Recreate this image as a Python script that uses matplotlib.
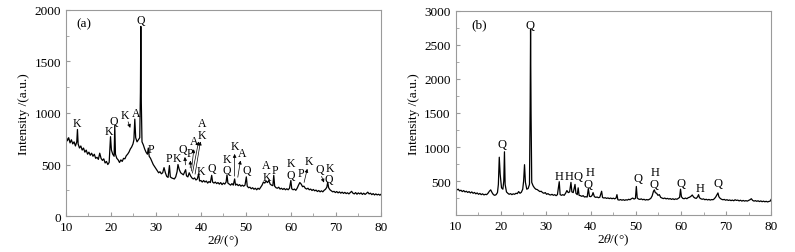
import numpy as np
import matplotlib
matplotlib.use('Agg')
import matplotlib.pyplot as plt

plt.rcParams['font.family'] = ['Liberation Serif', 'DejaVu Serif']
plt.rcParams['mathtext.fontset'] = 'stix'
plt.rcParams['font.size'] = 9

# --- XRD pattern (a): 2theta (deg), intensity (a.u.)
pattern_a = [
    (10.0, 780), (10.3, 730), (10.6, 760), (10.9, 710), (11.2, 740), (11.5, 700), (11.8, 720), (12.1, 680),
    (12.4, 720), (12.55, 840), (12.7, 700), (13.0, 660), (13.3, 680), (13.6, 640), (13.9, 660), (14.2, 620),
    (14.5, 640), (14.8, 600), (15.1, 620), (15.4, 590), (15.7, 610), (16.0, 580), (16.3, 600), (16.6, 560),
    (16.9, 570), (17.2, 550), (17.5, 610), (17.8, 560), (18.1, 540), (18.4, 555), (18.7, 515), (19.0, 530),
    (19.3, 500), (19.6, 520), (19.9, 770), (20.1, 640), (20.4, 600), (20.7, 580), (20.85, 880), (21.0, 600),
    (21.3, 560), (21.6, 545), (21.9, 520), (22.2, 545), (22.5, 530), (22.8, 560), (23.1, 555), (23.4, 585),
    (23.7, 600), (24.0, 620), (24.3, 650), (24.6, 670), (24.9, 700), (25.1, 740), (25.3, 940), (25.5, 760),
    (25.8, 720), (26.1, 740), (26.4, 760), (26.55, 1200), (26.64, 1840), (26.75, 1100), (26.9, 720), (27.2, 690),
    (27.5, 650), (27.8, 620), (28.1, 600), (28.3, 660), (28.5, 580), (28.8, 560), (29.1, 530), (29.4, 500),
    (29.7, 480), (30.0, 460), (30.3, 440), (30.6, 420), (30.9, 430), (31.2, 410), (31.5, 420), (31.8, 470),
    (32.1, 420), (32.4, 385), (32.7, 375), (33.0, 490), (33.2, 380), (33.5, 370), (33.8, 365), (34.1, 360),
    (34.4, 380), (34.7, 430), (34.9, 500), (35.2, 450), (35.5, 420), (35.8, 410), (36.1, 400), (36.4, 430),
    (36.6, 450), (36.8, 390), (37.1, 380), (37.4, 420), (37.7, 390), (38.0, 370), (38.3, 360), (38.6, 370),
    (38.9, 350), (39.2, 360), (39.5, 410), (39.7, 340), (40.0, 345), (40.3, 330), (40.6, 345), (40.9, 330),
    (41.2, 340), (41.5, 320), (41.8, 335), (42.1, 325), (42.4, 395), (42.6, 330), (42.9, 320), (43.2, 330),
    (43.5, 315), (43.8, 325), (44.1, 310), (44.4, 325), (44.7, 305), (45.0, 320), (45.3, 310), (45.6, 330),
    (45.8, 400), (46.0, 320), (46.3, 310), (46.6, 300), (46.9, 315), (47.2, 300), (47.5, 360), (47.7, 300),
    (48.0, 310), (48.3, 295), (48.6, 305), (48.9, 290), (49.2, 300), (49.5, 290), (49.8, 300), (50.1, 380),
    (50.3, 290), (50.6, 275), (50.9, 280), (51.2, 265), (51.5, 275), (51.8, 260), (52.1, 270), (52.4, 255),
    (52.7, 270), (53.0, 260), (53.3, 280), (53.6, 300), (53.9, 330), (54.2, 320), (54.5, 340), (54.8, 325),
    (55.1, 345), (55.4, 310), (55.7, 300), (56.0, 295), (56.2, 395), (56.4, 290), (56.7, 275), (57.0, 270),
    (57.3, 280), (57.6, 262), (57.9, 270), (58.2, 258), (58.5, 268), (58.8, 255), (59.1, 265), (59.4, 255),
    (59.7, 270), (60.0, 345), (60.2, 265), (60.5, 255), (60.8, 262), (61.1, 250), (61.4, 270), (61.7, 300),
    (62.0, 325), (62.3, 310), (62.6, 285), (62.9, 290), (63.2, 270), (63.5, 262), (63.8, 270), (64.1, 255),
    (64.4, 262), (64.7, 248), (65.0, 258), (65.3, 245), (65.6, 252), (65.9, 238), (66.2, 248), (66.5, 235),
    (66.8, 245), (67.1, 235), (67.4, 250), (67.7, 260), (68.0, 280), (68.2, 330), (68.4, 275), (68.7, 255),
    (69.0, 245), (69.3, 235), (69.6, 240), (69.9, 228), (70.2, 238), (70.5, 225), (70.8, 235), (71.1, 222),
    (71.4, 232), (71.7, 220), (72.0, 230), (72.3, 218), (72.6, 226), (72.9, 215), (73.2, 228), (73.5, 240),
    (73.8, 222), (74.1, 215), (74.4, 228), (74.7, 212), (75.0, 225), (75.3, 215), (75.6, 225), (75.9, 210),
    (76.2, 222), (76.5, 210), (76.8, 220), (77.1, 232), (77.4, 215), (77.7, 222), (78.0, 208), (78.3, 218),
    (78.6, 205), (78.9, 215), (79.2, 205), (79.5, 212), (79.8, 202), (80.0, 210),
]

# --- XRD pattern (b)
pattern_b = [
    (10.0, 390), (10.3, 370), (10.6, 380), (10.9, 355), (11.2, 365), (11.5, 345), (11.8, 360), (12.1, 340),
    (12.4, 350), (12.7, 332), (13.0, 345), (13.3, 325), (13.6, 340), (13.9, 320), (14.2, 332), (14.5, 312),
    (14.8, 325), (15.1, 305), (15.4, 318), (15.7, 300), (16.0, 312), (16.3, 296), (16.6, 305), (16.9, 300),
    (17.2, 320), (17.5, 350), (17.8, 370), (18.1, 330), (18.4, 300), (18.7, 290), (19.0, 300), (19.3, 330),
    (19.5, 450), (19.7, 850), (19.9, 600), (20.2, 400), (20.5, 380), (20.7, 500), (20.85, 930), (21.0, 450),
    (21.3, 340), (21.6, 320), (21.9, 305), (22.2, 315), (22.5, 300), (22.8, 312), (23.1, 305), (23.4, 320),
    (23.7, 315), (24.0, 345), (24.3, 320), (24.6, 335), (24.9, 380), (25.1, 500), (25.3, 740), (25.5, 480),
    (25.8, 380), (26.1, 390), (26.4, 450), (26.55, 1600), (26.64, 2730), (26.75, 1500), (26.9, 480), (27.2, 430),
    (27.5, 400), (27.8, 380), (28.1, 375), (28.4, 360), (28.7, 345), (29.0, 350), (29.3, 330), (29.6, 320),
    (29.9, 330), (30.2, 305), (30.5, 315), (30.8, 300), (31.1, 295), (31.4, 305), (31.7, 290), (32.0, 300),
    (32.3, 285), (32.6, 300), (33.0, 490), (33.2, 300), (33.5, 290), (33.8, 300), (34.1, 290), (34.4, 320),
    (34.7, 360), (35.0, 330), (35.3, 340), (35.6, 480), (35.8, 340), (36.1, 330), (36.5, 450), (36.7, 320),
    (37.0, 300), (37.2, 400), (37.4, 290), (37.7, 285), (38.0, 275), (38.3, 285), (38.6, 265), (38.9, 270),
    (39.2, 265), (39.45, 390), (39.7, 275), (40.0, 270), (40.3, 290), (40.5, 330), (40.8, 270), (41.1, 260),
    (41.4, 265), (41.7, 255), (42.0, 262), (42.4, 350), (42.6, 258), (42.9, 250), (43.2, 255), (43.5, 245),
    (43.8, 252), (44.1, 242), (44.4, 250), (44.7, 240), (45.0, 248), (45.3, 238), (45.6, 250), (45.8, 300),
    (46.0, 225), (46.3, 220), (46.6, 228), (46.9, 218), (47.2, 226), (47.5, 216), (47.8, 225), (48.1, 220),
    (48.4, 232), (48.7, 225), (49.0, 240), (49.3, 250), (49.6, 235), (49.9, 245), (50.1, 420), (50.3, 250),
    (50.6, 235), (50.9, 230), (51.2, 238), (51.5, 225), (51.8, 232), (52.1, 220), (52.4, 228), (52.7, 222),
    (53.0, 232), (53.3, 245), (53.6, 280), (53.9, 350), (54.1, 370), (54.3, 330), (54.6, 320), (54.9, 290),
    (55.2, 300), (55.5, 260), (55.8, 250), (56.1, 242), (56.4, 250), (56.7, 238), (57.0, 245), (57.3, 235),
    (57.6, 242), (57.9, 230), (58.2, 240), (58.5, 228), (58.8, 238), (59.1, 232), (59.4, 245), (59.7, 260),
    (59.9, 380), (60.1, 270), (60.4, 245), (60.7, 240), (61.0, 250), (61.3, 240), (61.6, 255), (61.9, 262),
    (62.2, 275), (62.5, 295), (62.8, 265), (63.1, 250), (63.4, 245), (63.7, 270), (63.9, 300), (64.1, 255),
    (64.4, 240), (64.7, 232), (65.0, 238), (65.3, 225), (65.6, 232), (65.9, 222), (66.2, 230), (66.5, 220),
    (66.8, 228), (67.1, 225), (67.4, 240), (67.7, 265), (68.0, 300), (68.2, 325), (68.4, 270), (68.7, 245),
    (69.0, 232), (69.3, 225), (69.6, 230), (69.9, 218), (70.2, 226), (70.5, 215), (70.8, 222), (71.1, 212),
    (71.4, 220), (71.7, 210), (72.0, 225), (72.3, 215), (72.6, 220), (72.9, 208), (73.2, 218), (73.5, 205),
    (73.8, 215), (74.1, 205), (74.4, 212), (74.7, 205), (75.0, 215), (75.3, 225), (75.6, 240), (75.9, 215),
    (76.2, 205), (76.5, 212), (76.8, 202), (77.1, 210), (77.4, 198), (77.7, 208), (78.0, 196), (78.3, 205),
    (78.6, 195), (78.9, 202), (79.2, 193), (79.5, 200), (79.8, 205), (80.0, 230),
]

# --- phase labels: (text, 2theta, intensity)
labels_a = [
    ('K', 12.5, 900), ('K', 19.6, 825), ('Q', 20.7, 920), ('K', 23.2, 985), ('A', 25.5, 995),
    ('Q', 26.7, 1905), ('P', 28.9, 655), ('P', 32.9, 560), ('K', 34.7, 560), ('Q', 36.0, 655),
    ('P', 37.5, 610), ('A', 38.6, 725), ('A', 40.2, 905), ('K', 40.2, 790), ('K', 40.0, 440),
    ('Q', 42.5, 465), ('K', 45.8, 550), ('Q', 45.7, 445), ('K', 47.6, 680), ('A', 49.2, 615),
    ('Q', 50.2, 445), ('A', 54.6, 495), ('K', 54.6, 380), ('P', 56.4, 445), ('K', 60.0, 515),
    ('Q', 60.0, 395), ('P', 62.2, 420), ('K', 64.1, 535), ('Q', 66.4, 455), ('K', 68.7, 470),
    ('Q', 68.5, 360),
]
# --- arrows: (tail 2theta, tail I, head 2theta, head I)
arrows_a = [
    (23.6, 940, 24.5, 830), (36.6, 470, 36.4, 600), (37.6, 440, 37.7, 565), (37.8, 410, 38.5, 675),
    (38.0, 390, 39.6, 750), (38.6, 380, 40.0, 750), (47.5, 360, 47.5, 630), (48.1, 350, 48.9, 565),
    (62.8, 300, 63.8, 485), (66.6, 410, 67.6, 300),
]

labels_b = [
    ('Q', 26.6, 2790), ('Q', 20.4, 1045), ('H', 33.0, 575), ('H', 35.2, 575), ('Q', 37.2, 575),
    ('H', 39.8, 640), ('Q', 39.3, 460), ('Q', 50.4, 540), ('H', 54.3, 640), ('Q', 54.1, 460),
    ('Q', 59.9, 475), ('H', 64.3, 400), ('Q', 68.3, 475),
]

tth_a, int_a = np.array(pattern_a).T
tth_b, int_b = np.array(pattern_b).T

fig = plt.figure(figsize=(7.95, 2.53), dpi=100)
ax_a = fig.add_axes((0.083, 0.142, 0.396, 0.815))
ax_b = fig.add_axes((0.573, 0.146, 0.397, 0.807))

spine_col = '#9a9a9a'


def style(ax, ymax, ystep, yticks):
    for s in ax.spines.values():
        s.set_color(spine_col)
        s.set_linewidth(0.8)
    ax.set_xlim(10, 80)
    ax.set_ylim(0, ymax)
    ax.set_xticks(np.arange(10, 81, 10))
    ax.set_xticks(np.arange(15, 80, 10), minor=True)
    ax.set_yticks(yticks)
    ax.set_yticks(np.arange(ystep / 2, ymax, ystep), minor=True)
    ax.tick_params(which='both', direction='in', color=spine_col, labelsize=9.5, top=False, right=False)
    ax.tick_params(which='major', length=3)
    ax.tick_params(which='minor', length=2)
    ax.set_xlabel(r'2$\theta$/(°)', fontsize=9.5, labelpad=0)
    ax.set_ylabel('Intensity /(a.u.)', fontsize=9.5, labelpad=3)


ax_a.plot(tth_a, int_a, color='black', lw=0.9)
style(ax_a, 2000, 500, np.arange(0, 2001, 500))
ax_a.text(12.4, 1870, '(a)', fontsize=9.5, va='center')
for t, x, y in labels_a:
    ax_a.text(x, y, t, fontsize=8.5, ha='center', va='center')
for x0, y0, x1, y1 in arrows_a:
    ax_a.annotate('', xy=(x1, y1), xytext=(x0, y0),
                  arrowprops=dict(arrowstyle='-|>', lw=0.5, color='black', mutation_scale=5))

ax_b.plot(tth_b, int_b, color='black', lw=0.9)
style(ax_b, 3000, 500, np.arange(500, 3001, 500))
ax_b.text(13.5, 2810, '(b)', fontsize=9.5, va='center')
for t, x, y in labels_b:
    ax_b.text(x, y, t, fontsize=9, ha='center', va='center')

fig.savefig('out.png', dpi=100)
